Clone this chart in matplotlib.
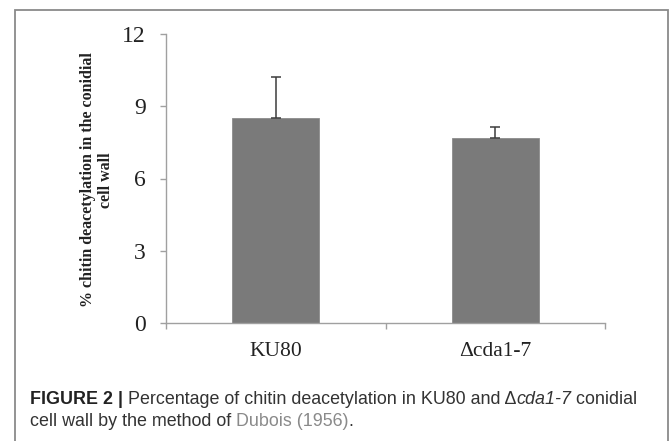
import numpy as np
import matplotlib
matplotlib.use("Agg")
import matplotlib.pyplot as plt
from matplotlib.patches import Rectangle

strains = ["KU80", "\u0394cda1-7"]
deacetylation = [8.5, 7.68]
sd = [1.7, 0.46]
yticks = [0, 3, 6, 9, 12]

W, H = 670, 441
fig = plt.figure(figsize=(W / 100, H / 100), dpi=100)

# frame around the figure panel
fig.patches.append(Rectangle((15 / W, -0.1), 653 / W, (H - 10) / H + 0.1,
                             transform=fig.transFigure, fill=False,
                             ec="#8a8a8a", lw=1.3))

ax = fig.add_axes([166 / W, 118 / H, 439 / W, 289 / H])
x = np.arange(len(strains))
ax.bar(x, deacetylation, width=0.395, color="#7a7a7a", ec="#8c8c8c", lw=0.6,
       zorder=2)
ax.errorbar(x, deacetylation, yerr=[np.zeros(len(sd)), sd], fmt="none",
            ecolor="#3c3c3c", elinewidth=1.1, capsize=3.5, capthick=1.1,
            zorder=3)

ax.set_xlim(-0.5, 1.5)
ax.set_ylim(0, 12)
ax.set_yticks(yticks)
ax.set_xticks(x)
ax.set_xticklabels(strains)
ax.set_xticks([-0.5, 0.5, 1.5], minor=True)
for s in ["top", "right"]:
    ax.spines[s].set_visible(False)
for s in ["left", "bottom"]:
    ax.spines[s].set_color("#a0a0a0")
    ax.spines[s].set_linewidth(1.0)
ax.tick_params(axis="y", length=4.5, color="#a0a0a0", width=1.0, pad=10,
               labelsize=17, labelcolor="#222222")
ax.tick_params(axis="x", which="major", length=0, pad=14, labelsize=15.5,
               labelcolor="#222222")
ax.tick_params(axis="x", which="minor", length=4.5, color="#a0a0a0", width=1.0)
for lab in ax.get_xticklabels() + ax.get_yticklabels():
    lab.set_family("Liberation Serif")

fig.text(97 / W, 1 - 180 / H,
         "% chitin deacetylation in the conidial\ncell wall",
         rotation=90, ha="center", va="center", multialignment="center",
         family="Liberation Serif", weight="bold", fontsize=11.5,
         linespacing=1.2, color="#222222")

# caption with mixed styles
cap = dict(family="Liberation Sans", fontsize=12.9, color="#333333")
pieces1 = [("FIGURE 2 | ", dict(weight="bold", color="#222222")),
           ("Percentage of chitin deacetylation in KU80 and \u0394", {}),
           ("cda1-7", dict(style="italic")),
           (" conidial", {})]
pieces2 = [("cell wall by the method of ", {}),
           ("Dubois (1956)", dict(color="#8a8a8a")),
           (".", {})]
fig.canvas.draw()
r = fig.canvas.get_renderer()
for pieces, yy in [(pieces1, 399), (pieces2, 422)]:
    xp = 30
    for txt, kw in pieces:
        props = dict(cap)
        props.update(kw)
        t = fig.text(xp / W, 1 - yy / H, txt, ha="left", va="center", **props)
        xp += t.get_window_extent(r).width

fig.savefig("out.png", dpi=100)
